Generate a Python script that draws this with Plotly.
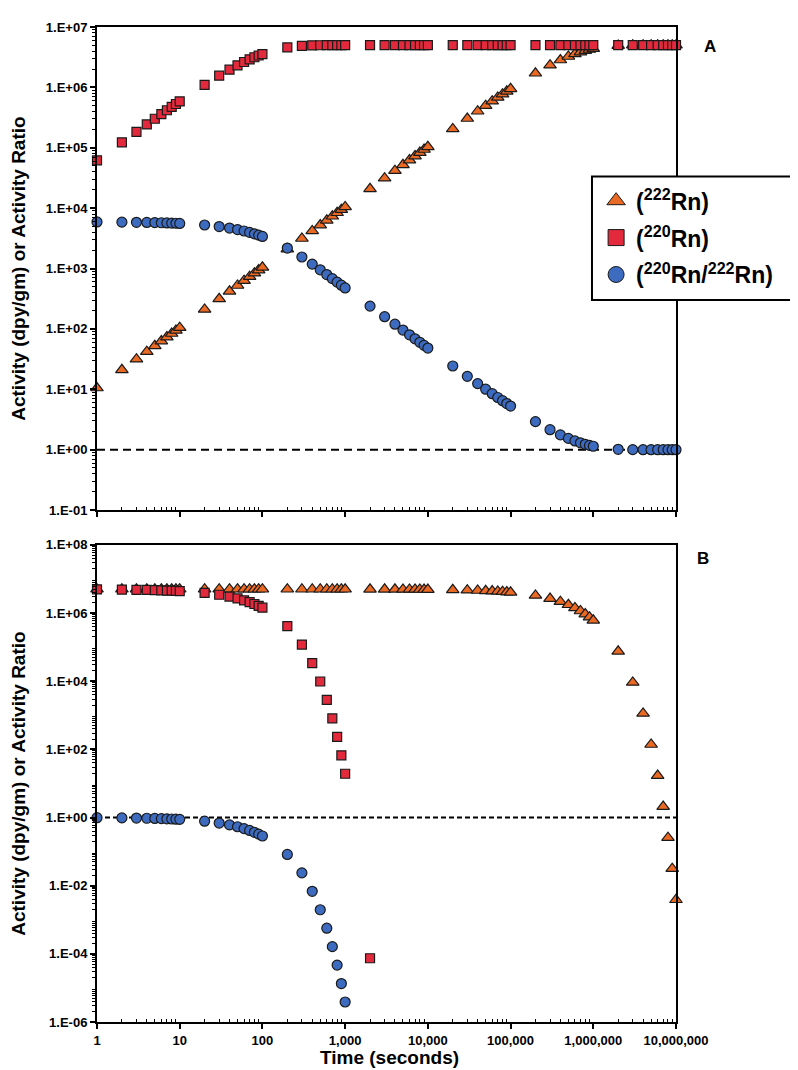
import plotly.graph_objects as go

# ---------------- data ----------------
time_s = [1, 2, 3, 4, 5, 6, 7, 8, 9, 10,
          20, 30, 40, 50, 60, 70, 80, 90, 100,
          200, 300, 400, 500, 600, 700, 800, 900, 1000,
          2000, 3000, 4000, 5000, 6000, 7000, 8000, 9000, 10000,
          20000, 30000, 40000, 50000, 60000, 70000, 80000, 90000, 100000,
          200000, 300000, 400000, 500000, 600000, 700000, 800000, 900000, 1000000,
          2000000, 3000000, 4000000, 5000000, 6000000, 7000000, 8000000, 9000000, 10000000]

# Panel A : ingrowth
a_rn222 = [10.5, 21.0, 31.5, 42.0, 52.5, 62.9, 73.4, 83.9, 94.4, 104.9,
           210, 315, 420, 524, 629, 734, 839, 944, 1049,
           2098, 3146, 4194, 5242, 6290, 7337, 8384, 9431, 10479,
           20936, 31371, 41783, 52176, 62547, 72894, 83220, 93525, 103807,
           205450, 305000, 402500, 497950, 591400, 682950, 772550, 860350, 946300,
           1713500, 2335000, 2840000, 3249000, 3580000, 3849000, 4067000, 4243000, 4386000,
           4925000, 4990800, 4998900, 4999860, 5000000, 5000000, 5000000, 5000000, 5000000]
a_rn220 = [61950, 123130, 183550, 243225, 302160, 360365, 417845, 474605, 530670, 586050,
           1103300, 1560100, 1963250, 2319350, 2633400, 2910750, 3155700, 3371950, 3562550,
           4586750, 4881200, 4965850, 4990200, 4997200, 4999200, 4999800, 4999900, 5000000,
           5000000, 5000000, 5000000, 5000000, 5000000, 5000000, 5000000, 5000000, 5000000,
           5000000, 5000000, 5000000, 5000000, 5000000, 5000000, 5000000, 5000000, 5000000,
           5000000, 5000000, 5000000, 5000000, 5000000, 5000000, 5000000, 5000000, 5000000,
           5000000, 5000000, 5000000, 5000000, 5000000, 5000000, 5000000, 5000000, 5000000]
a_ratio = [5906, 5869, 5832, 5797, 5761, 5726, 5690, 5655, 5621, 5587,
           5259, 4959, 4681, 4425, 4187, 3967, 3764, 3575, 3399,
           2186, 1552, 1184, 952, 794.5, 681.4, 596.4, 530.2, 477.1,
           238.8, 159.4, 119.7, 95.83, 79.94, 68.59, 60.08, 53.46, 48.17,
           24.34, 16.39, 12.42, 10.04, 8.455, 7.321, 6.472, 5.812, 5.284,
           2.918, 2.141, 1.761, 1.539, 1.397, 1.299, 1.229, 1.178, 1.140,
           1.015, 1.002, 1.000, 1.000, 1.000, 1.000, 1.000, 1.000, 1.000]

# Panel B : decay
b_rn222 = [5.0e6, 5.0e6, 5.0e6, 5.0e6, 5.0e6, 5.0e6, 5.0e6, 5.0e6, 5.0e6, 5.0e6,
           5.0e6, 5.0e6, 5.0e6, 5.0e6, 5.0e6, 5.0e6, 5.0e6, 5.0e6, 5.0e6,
           4.998e6, 4.997e6, 4.996e6, 4.995e6, 4.994e6, 4.993e6, 4.992e6, 4.991e6, 4.990e6,
           4.979e6, 4.969e6, 4.958e6, 4.948e6, 4.937e6, 4.927e6, 4.917e6, 4.906e6, 4.896e6,
           4.795e6, 4.695e6, 4.598e6, 4.502e6, 4.409e6, 4.317e6, 4.227e6, 4.140e6, 4.054e6,
           3.287e6, 2.665e6, 2.160e6, 1.751e6, 1.420e6, 1.151e6, 9.334e5, 7.568e5, 6.135e5,
           7.528e4, 9236, 1133, 139.1, 17.06, 2.094, 0.2569, 0.03152, 0.003868]
b_rn220 = [4.938e6, 4.877e6, 4.816e6, 4.757e6, 4.698e6, 4.640e6, 4.582e6, 4.525e6, 4.469e6, 4.414e6,
           3.897e6, 3.440e6, 3.037e6, 2.681e6, 2.367e6, 2.089e6, 1.844e6, 1.628e6, 1.437e6,
           4.133e5, 1.188e5, 3.415e4, 9817, 2822, 811.4, 233.3, 67.06, 19.28,
           7.43e-5]
b_ratio = [0.9876, 0.9754, 0.9633, 0.9514, 0.9396, 0.9280, 0.9165, 0.9051, 0.8939, 0.8828,
           0.7794, 0.6881, 0.6074, 0.5362, 0.4734, 0.4179, 0.3689, 0.3257, 0.2875,
           0.08268, 0.02377, 0.006835, 0.001965, 5.651e-4, 1.625e-4, 4.672e-5, 1.343e-5, 3.863e-6]

series_names = ["(<sup>222</sup>Rn)", "(<sup>220</sup>Rn)", "(<sup>220</sup>Rn/<sup>222</sup>Rn)"]

x_tickvals = [1, 10, 100, 1000, 10000, 100000, 1000000, 10000000]
x_ticktext = ["1", "10", "100", "1,000", "10,000", "100,000", "1,000,000", "10,000,000"]
a_tickvals = [0.1, 1, 10, 100, 1000, 1e4, 1e5, 1e6, 1e7]
a_ticktext = ["1.E-01", "1.E+00", "1.E+01", "1.E+02", "1.E+03", "1.E+04", "1.E+05", "1.E+06", "1.E+07"]
b_tickvals = [1e-6, 1e-4, 1e-2, 1, 1e2, 1e4, 1e6, 1e8]
b_ticktext = ["1.E-06", "1.E-04", "1.E-02", "1.E+00", "1.E+02", "1.E+04", "1.E+06", "1.E+08"]
equilibrium_ratio = 1

# ---------------- styling ----------------
FONT = "Liberation Sans, Arial, Helvetica, sans-serif"
C_TRI = "#EA6A24"
C_SQ = "#E3293C"
C_CIR = "#3D6BBF"
EDGE = "#1a1a1a"

fig = go.Figure()

def add_series(x, y, sym, color, size, xa, ya):
    fig.add_trace(go.Scatter(
        x=x, y=y, mode="markers", xaxis=xa, yaxis=ya, showlegend=False,
        cliponaxis=False,
        marker=dict(symbol=sym, size=size, color=color, line=dict(color=EDGE, width=1.2))))

# Panel A
add_series(time_s, a_rn222, "triangle-up", C_TRI, 11, "x", "y")
add_series(time_s, a_rn220, "square", C_SQ, 9, "x", "y")
add_series(time_s, a_ratio, "circle", C_CIR, 10, "x", "y")
# Panel B
add_series(time_s, b_rn222, "triangle-up", C_TRI, 11, "x2", "y2")
add_series(time_s[:len(b_rn220)], b_rn220, "square", C_SQ, 9, "x2", "y2")
add_series(time_s[:len(b_ratio)], b_ratio, "circle", C_CIR, 10, "x2", "y2")

# legend-only entries
for name, sym, col, grp in zip(series_names, ["triangle-up", "square", "circle"],
                               [C_TRI, C_SQ, C_CIR], ["g1", "g2", "g3"]):
    fig.add_trace(go.Scatter(
        x=[None], y=[None], mode="markers", name="<b>" + name + "</b>", legendgroup=grp,
        marker=dict(symbol=sym, size=16, color=col, line=dict(color=EDGE, width=1))))

minor_x = [m * 10 ** k for k in range(0, 7) for m in range(2, 10)]

def bold(labels):
    return ["<b>" + t + "</b>" for t in labels]

def xaxis_cfg(show_labels, anchor):
    return dict(
        type="log", range=[0, 7], anchor=anchor, domain=[0, 1],
        showline=True, linecolor="black", linewidth=2, mirror=True,
        showgrid=False, zeroline=False,
        tickmode="array", tickvals=x_tickvals, ticktext=bold(x_ticktext),
        showticklabels=show_labels,
        ticks="outside", ticklen=5, tickwidth=1.5, tickcolor="black",
        tickfont=dict(family=FONT, size=13, color="black"),
        minor=dict(tickmode="array", tickvals=minor_x, ticks="inside", ticklen=3,
                   tickwidth=1, tickcolor="black", showgrid=False),
    )

def minor_y(lo, hi):
    return [m * 10.0 ** k for k in range(lo, hi) for m in range(2, 10)]

def yaxis_cfg(rng, tv, tt, domain, anchor):
    return dict(
        type="log", range=rng, domain=domain, anchor=anchor,
        showline=True, linecolor="black", linewidth=2, mirror=True,
        showgrid=False, zeroline=False,
        tickmode="array", tickvals=tv, ticktext=bold(tt),
        ticks="outside", ticklen=5, tickwidth=1.5, tickcolor="black",
        tickfont=dict(family=FONT, size=13, color="black"),
        minor=dict(tickmode="array", tickvals=minor_y(rng[0], rng[1]), ticks="outside",
                   ticklen=3, tickwidth=1, tickcolor="black", showgrid=False),
    )

# page body has an 8px margin: shrink the figure by 8px so the plot lands where the reference has it
fig.update_layout(
    width=790, height=1062,
    margin=dict(l=89, r=122, t=15, b=48),
    paper_bgcolor="white", plot_bgcolor="white",
    font=dict(family=FONT, color="black"),
    xaxis=xaxis_cfg(False, "y"),
    yaxis=yaxis_cfg([-1, 7], a_tickvals, a_ticktext, [0.5145, 1.0], "x"),
    xaxis2=xaxis_cfg(True, "y2"),
    yaxis2=yaxis_cfg([-6, 8], b_tickvals, b_ticktext, [0.0, 0.4795], "x2"),
    legend=dict(x=0.862, y=0.847, xanchor="left", yanchor="top",
                bgcolor="rgba(0,0,0,0)", borderwidth=0,
                font=dict(family=FONT, size=23, color="black"),
                tracegroupgap=4, itemclick=False),
)

# equilibrium reference lines
fig.add_shape(type="line", xref="x domain", yref="y", x0=0, x1=1,
              y0=equilibrium_ratio, y1=equilibrium_ratio,
              line=dict(color="black", width=2, dash="8px,5px"), layer="below")
fig.add_shape(type="line", xref="x2 domain", yref="y2", x0=0, x1=1,
              y0=equilibrium_ratio, y1=equilibrium_ratio,
              line=dict(color="black", width=2, dash="5px,3px"), layer="below")

# legend box
fig.add_shape(type="rect", xref="paper", yref="paper", x0=0.8549, x1=1.35,
              y0=0.7257, y1=0.8498, line=dict(color="black", width=2),
              fillcolor="white", layer="above")

title_font = dict(family=FONT, size=19, color="black")
ytitle = "<b>Activity (dpy/gm) or Activity Ratio</b>"
fig.add_annotation(text=ytitle, xref="paper", yref="paper", x=-0.136, y=0.7573,
                   textangle=-90, showarrow=False, font=title_font,
                   xanchor="center", yanchor="middle")
fig.add_annotation(text=ytitle, xref="paper", yref="paper", x=-0.136, y=0.2397,
                   textangle=-90, showarrow=False, font=title_font,
                   xanchor="center", yanchor="middle")
fig.add_annotation(text="<b>Time (seconds)</b>", xref="paper", yref="paper", x=0.505, y=-0.036,
                   showarrow=False, font=title_font, xanchor="center", yanchor="middle")
fig.add_annotation(text="<b>A</b>", xref="paper", yref="paper", x=1.0587, y=0.98,
                   showarrow=False, font=dict(family=FONT, size=17, color="black"),
                   xanchor="center", yanchor="middle")
fig.add_annotation(text="<b>B</b>", xref="paper", yref="paper", x=1.0466, y=0.4655,
                   showarrow=False, font=dict(family=FONT, size=17, color="black"),
                   xanchor="center", yanchor="middle")

fig.write_html("out.html")
